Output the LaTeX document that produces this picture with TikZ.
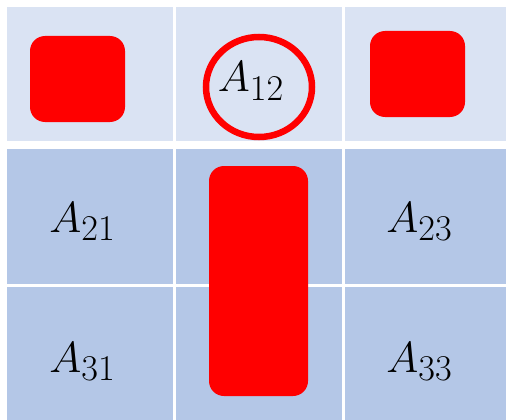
\documentclass[tikz,border=0pt]{standalone}
\usepackage{amsmath,amssymb}
\usepackage{xcolor}
\definecolor{rowlight}{HTML}{DAE3F3}
\definecolor{rowdark}{HTML}{B4C7E7}
\definecolor{hotred}{HTML}{FF0000}

\begin{document}
\begin{tikzpicture}[x=1pt,y=-1pt,entry/.style={anchor=base,inner sep=0pt,font=\Huge,scale=1.75},
  blob/.style={fill=hotred,rounded corners=15pt}]
\useasboundingbox (0,0) rectangle (506,420);
\fill[rowlight] (7,7) rectangle (173,141);
\fill[rowlight] (176,7) rectangle (342,141);
\fill[rowlight] (345,7) rectangle (506,141);
\fill[rowdark] (7,149) rectangle (173,284);
\fill[rowdark] (176,149) rectangle (342,284);
\fill[rowdark] (345,149) rectangle (506,284);
\fill[rowdark] (7,287) rectangle (173,420);
\fill[rowdark] (176,287) rectangle (342,420);
\fill[rowdark] (345,287) rectangle (506,420);
\fill[blob] (30,36) rectangle (125,122);
\fill[blob] (370,31) rectangle (465,117);
\fill[blob] (209,166) rectangle (308,396);
\node[entry] (a12) at (251,92) {$A_{12}$};
\draw[hotred,line width=6.5pt] (259,87) ellipse [x radius=53,y radius=50];
\node[entry] (a21) at (82.5,232) {$A_{21}$};
\node[entry] (a23) at (419.5,232) {$A_{23}$};
\node[entry] (a31) at (82.5,372) {$A_{31}$};
\node[entry] (a33) at (419.5,372) {$A_{33}$};
\end{tikzpicture}
\end{document}
